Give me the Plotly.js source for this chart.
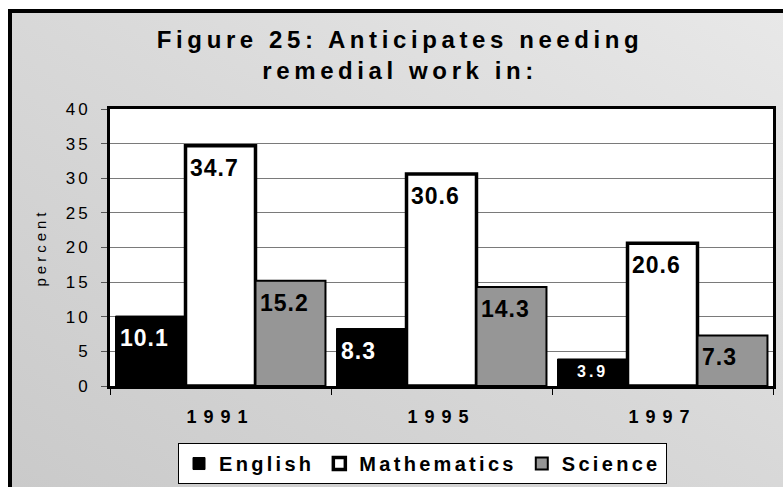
<!DOCTYPE html>
<html>
<head>
<meta charset="utf-8">
<script src="https://cdn.plot.ly/plotly-3.0.1.min.js"></script>
<style>
  html, body { margin: 0; padding: 0; background: #ffffff; }
  #frame {
    position: absolute; left: 8px; top: 9px; width: 775px; height: 478px;
    box-sizing: border-box;
    border-left: 4px solid #000; border-top: 4px solid #000;
    background: linear-gradient(to bottom left, #e8e8e8 0%, #d8d8d8 50%, #cacaca 100%);
  }
  #chart { position: absolute; left: 0; top: 0; width: 783px; height: 487px; }
  .gtitle { letter-spacing: 4.6px; }
  .xtick text { letter-spacing: 7px; }
  .ytick text { letter-spacing: 3px; }
  .ytitle { letter-spacing: 4px; }
  .legendtext { letter-spacing: 3.3px; }
  .annotation-text { letter-spacing: 1px; }
  .annotation[data-index="2"] .annotation-text { letter-spacing: 3px; }
</style>
</head>
<body>
<div id="frame"></div>
<div id="chart"></div>
<script>
// ---- data ----
const years = ['1991', '1995', '1997'];
const seriesNames = ['English', 'Mathematics', 'Science'];
const english = [10.1, 8.3, 3.9];
const mathematics = [34.7, 30.6, 20.6];
const science = [15.2, 14.3, 7.3];
const yTicks = [0, 5, 10, 15, 20, 25, 30, 35, 40];

const FONT = 'Arial, "Liberation Sans", sans-serif';
const seriesValues = [english, mathematics, science];
const fills = ['#000000', '#ffffff', '#969696'];
const lineWidths = [1, 3.5, 2];
const labelColors = ['#ffffff', '#000000', '#000000'];

const traces = seriesValues.map((vals, k) => ({
  type: 'bar',
  name: seriesNames[k],
  x: years,
  y: vals,
  marker: { color: fills[k], line: { color: '#000000', width: lineWidths[k] } },
  hoverinfo: 'none'
}));

// value labels from the data arrays (x given as category index)
const annotations = [];
seriesValues.forEach((vals, k) => {
  vals.forEach((v, i) => {
    const small = v < 5;
    annotations.push({
      x: i, y: v, xref: 'x', yref: 'y',
      text: String(v),
      showarrow: false,
      xanchor: small ? 'center' : 'left',
      yanchor: 'top',
      xshift: small ? (-70 + 70 * k) : (-105 + 70 * k + 2),
      yshift: small ? -2 : -7,
      font: { family: FONT, size: small ? 16 : 23, color: labelColors[k], weight: 'bold' }
    });
  });
});

const layout = {
  width: 783, height: 487,
  paper_bgcolor: 'rgba(0,0,0,0)',
  plot_bgcolor: '#ffffff',
  margin: { l: 110, r: 10, t: 109, b: 101 },
  barmode: 'group',
  bargap: 0.05,
  bargroupgap: 0,
  showlegend: true,
  font: { family: FONT, color: '#000000' },
  title: {
    text: 'Figure 25: Anticipates needing<br>remedial work in:',
    x: 0.511, xref: 'container', xanchor: 'center',
    y: 0.902, yref: 'container', yanchor: 'top',
    font: { family: FONT, size: 24, color: '#000000', weight: 'bold' }
  },
  xaxis: {
    type: 'category',
    range: [-0.5, 2.5],
    tickson: 'boundaries',
    tickangle: 0,
    ticks: 'outside', ticklen: 6, tickwidth: 1, tickcolor: '#000000',
    showline: true, linecolor: '#000000', linewidth: 3, mirror: true,
    showgrid: false,
    tickfont: { family: FONT, size: 18, color: '#000000', weight: 'bold' },
    ticklabelstandoff: 12
  },
  yaxis: {
    range: [0, 40],
    tickvals: yTicks,
    ticks: 'outside', ticklen: 6, tickwidth: 1, tickcolor: '#555555',
    showline: true, linecolor: '#000000', linewidth: 3, mirror: true,
    showgrid: true, gridcolor: '#7a7a7a', gridwidth: 1,
    zeroline: false,
    tickfont: { family: FONT, size: 17, color: '#000000' },
    ticklabelstandoff: 7,
    title: { text: 'percent', font: { family: FONT, size: 15, color: '#000000' }, standoff: 16 }
  },
  legend: {
    orientation: 'h',
    x: 0.5396, xref: 'container', xanchor: 'center',
    y: 0.0903, yref: 'container', yanchor: 'top',
    bgcolor: '#ffffff', bordercolor: '#000000', borderwidth: 1,
    font: { family: FONT, size: 20, color: '#000000', weight: 'bold' },
    traceorder: 'normal'
  },
  annotations: annotations
};

Plotly.newPlot('chart', traces, layout, { displayModeBar: false });
</script>
</body>
</html>
